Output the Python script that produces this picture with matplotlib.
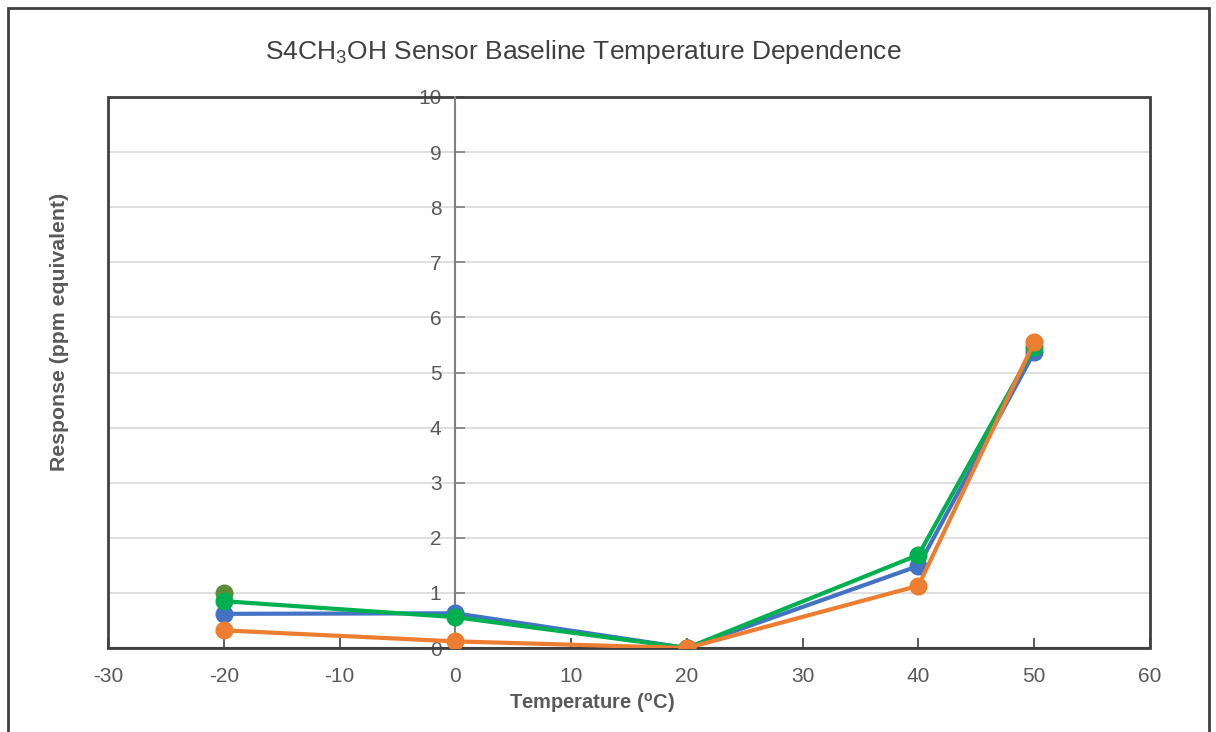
import matplotlib
matplotlib.use("Agg")
import matplotlib.pyplot as plt
from matplotlib.patches import Rectangle

plt.rcParams['font.family'] = ['Liberation Sans', 'DejaVu Sans']
plt.rcParams['axes.unicode_minus'] = False

# data
temps = [-20, 0, 20, 40, 50]
blue_vals = [0.62, 0.63, 0.0, 1.49, 5.37]
orange_vals = [0.32, 0.12, 0.0, 1.13, 5.55]
green_vals = [0.85, 0.56, 0.0, 1.69, 5.46]
olive_temp = [-20]
olive_vals = [1.0]

xticks = [-30, -20, -10, 0, 10, 20, 30, 40, 50, 60]
yticks = list(range(0, 11))

grey_txt = '#595959'

fig = plt.figure(figsize=(12.16, 7.32), dpi=100)
ax = fig.add_axes([108/1216, 1 - 648/732, (1150 - 108)/1216, (648 - 97)/732])

# outer frame of the figure
fig.patches.append(Rectangle((8/1216, -0.05), (1209 - 8)/1216, 1.05 - 8/732,
                             transform=fig.transFigure, fill=False,
                             edgecolor='#404040', lw=2))

ax.plot(olive_temp, olive_vals, 'o', color='#5E8B3A', ms=12, zorder=3)
ax.plot(temps, blue_vals, '-o', color='#4472C4', lw=3, ms=12, zorder=4)
ax.plot(temps, green_vals, '-o', color='#00B050', lw=3, ms=12, zorder=5)
ax.plot(temps, orange_vals, '-o', color='#ED7D31', lw=3, ms=12, zorder=6)

ax.set_xlim(-30, 60)
ax.set_ylim(0, 10)
ax.set_xticks(xticks)
ax.set_yticks(yticks)

ax.grid(axis='y', color='#d9d9d9', lw=1.2)
ax.set_axisbelow(True)

for s in ['top', 'right']:
    ax.spines[s].set_visible(False)
ax.spines['left'].set_position(('data', 0))
ax.spines['left'].set_color('#808080')
ax.spines['left'].set_linewidth(1.5)
ax.spines['bottom'].set_color('#404040')
ax.spines['bottom'].set_linewidth(1.5)

ax.add_patch(Rectangle((0, 0), 1, 1, transform=ax.transAxes, fill=False,
                       edgecolor='#404040', lw=2, clip_on=False, zorder=2))

ax.tick_params(axis='x', direction='in', length=7, width=1.2, color='#404040',
               labelsize=15, labelcolor=grey_txt, pad=14)
ax.tick_params(axis='y', direction='in', length=7, width=1.2, color='#808080',
               labelsize=15, labelcolor=grey_txt, pad=10)

fig.text(592/1216, 1 - 703/732, 'Temperature ($^\\mathregular{o}$C)',
         ha='center', va='center', fontsize=14.5, fontweight='bold',
         color=grey_txt)
fig.text(60/1216, 1 - 332/732, 'Response (ppm equivalent)', rotation=90,
         ha='center', va='center', fontsize=15.3, fontweight='bold',
         color=grey_txt)

fig.text(583/1216, 1 - 52/732,
         'S4CH$_\\mathregular{3}$OH Sensor Baseline Temperature Dependence',
         ha='center', va='center', fontsize=19, color='#404040')

fig.savefig('out.png', dpi=100)
